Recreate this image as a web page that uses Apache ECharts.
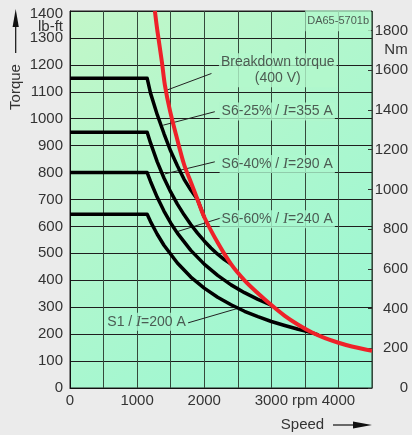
<!DOCTYPE html>
<html>
<head>
<meta charset="utf-8">
<script src="https://cdn.jsdelivr.net/npm/echarts@6/dist/echarts.min.js"></script>
<style>
html, body { margin: 0; padding: 0; background: #ebebeb; }
#chart { width: 412px; height: 435px; }
</style>
</head>
<body>
<div id="chart"></div>
<script>
// speed axis labels, one per 500 rpm step
var speedLabels = ['0', '', '1000', '', '2000', '', '3000', 'rpm', '4000', ''];
var nmLabels = ['0', '200', '400', '600', '800', '1000', '1200', '1400', '1600', '1800'];

// [speed rpm, torque lb-ft]
var breakdown = [[1265, 1400], [1300, 1330], [1370, 1210], [1414, 1125], [1488, 1032], [1588, 933],
    [1700, 830], [1800, 765], [1900, 700], [2000, 635], [2200, 540], [2400, 460], [2600, 400],
    [2800, 352], [3000, 308], [3200, 268], [3400, 235], [3600, 207], [3800, 185], [4000, 168],
    [4200, 154], [4500, 138]];
var s6_25 = [[0, 1150], [1150, 1150], [1200, 1095], [1300, 1015], [1400, 945], [1500, 880],
    [1600, 825], [1700, 775], [1800, 735], [1900, 700], [2000, 635]];
var s6_40 = [[0, 950], [1150, 950], [1200, 910], [1300, 840], [1400, 780], [1500, 728], [1600, 683],
    [1700, 643], [1800, 607], [1900, 575], [2000, 546], [2100, 520], [2200, 497], [2300, 477],
    [2400, 460]];
var s6_60 = [[0, 800], [1150, 800], [1200, 767], [1300, 708], [1400, 657], [1500, 613], [1600, 575],
    [1800, 511], [2000, 460], [2200, 418], [2400, 383], [2600, 354], [2800, 329], [3000, 308]];
var s1 = [[0, 645], [1150, 645], [1200, 618], [1300, 571], [1400, 530], [1600, 464], [1800, 412],
    [2000, 371], [2200, 337], [2400, 309], [2600, 285], [2800, 265], [3000, 247], [3200, 232],
    [3400, 218], [3600, 206], [3700, 197]];

// annotation texts, their anchor and leader lines (data coords)
var noteTexts = ['Breakdown torque\n(400 V)', 'S6-25% / {i|I}=355 A', 'S6-40% / {i|I}=290 A',
    'S6-60% / {i|I}=240 A', 'S1 / {i|I}=200 A'];
var notePos = [[3096, 1180], [3088, 1027], [3088, 832], [3088, 627], [1141, 246]];
var noteBg = ['#b3f7cc', '#b0f7cd', '#acf7ce', '#a9f7cf', '#a9f7cf'];
var leaders = [
    [[2108, 1168], [1430, 1105]],
    [[2158, 1026], [1389, 976]],
    [[2158, 840], [1414, 795]],
    [[2282, 634], [1588, 580]],
    [[1760, 242], [2505, 296]]
];

var NM_PER_LBFT = 1.3558;
var font = "'Liberation Sans', Arial, sans-serif";

function init() {
    var chart = echarts.init(document.getElementById('chart'));
    var plotBg = new echarts.graphic.LinearGradient(0, 0, 1, 1, [
        { offset: 0, color: '#c2f7c8' },
        { offset: 1, color: '#98f7d4' }
    ]);
    var series = [];

    leaders.forEach(function (l) {
        series.push({
            type: 'line', data: l, symbol: 'none', silent: true, z: 3,
            lineStyle: { color: '#222', width: 1 }
        });
    });
    [s1, s6_60, s6_40, s6_25].forEach(function (d) {
        series.push({
            type: 'line', data: d, symbol: 'none', silent: true, z: 4,
            lineStyle: { color: '#000', width: 3.5, join: 'round' }
        });
    });
    series.push({
        type: 'line', data: breakdown, symbol: 'none', silent: true, z: 5, smooth: 0.3,
        lineStyle: { color: '#ee2229', width: 4 }
    });
    notePos.forEach(function (p, i) {
        series.push({
            type: 'scatter', data: [p], symbolSize: 0, silent: true, z: 6,
            label: {
                show: true, position: 'inside', formatter: noteTexts[i],
                fontFamily: font, fontSize: 14, color: '#333', lineHeight: 16,
                backgroundColor: noteBg[i], padding: [1, 2],
                rich: { i: { fontFamily: "'Liberation Serif', serif", fontStyle: 'italic', fontSize: 15, color: '#333' } }
            }
        });
    });
    // drawing number box top right
    series.push({
        type: 'scatter', data: [[3995, 1364]], symbolSize: 0, silent: true, z: 6,
        label: {
            show: true, position: 'inside', formatter: 'DA65-5701b',
            fontFamily: font, fontSize: 11, color: '#333',
            backgroundColor: '#b3f7cc', padding: [5, 2]
        }
    });

    chart.setOption({
        backgroundColor: '#ebebeb',
        animation: false,
        textStyle: { fontFamily: font },
        grid: {
            left: 70, right: 40, top: 11, bottom: 47,
            show: true, backgroundColor: plotBg, borderColor: '#222', borderWidth: 1,
            outerBoundsMode: 'none'
        },
        xAxis: {
            type: 'value', min: 0, max: 4500, interval: 500,
            axisLine: { show: true, lineStyle: { color: '#111' } },
            axisTick: { show: false },
            splitLine: { show: true, lineStyle: { color: '#34493b', width: 1 } },
            axisLabel: {
                fontSize: 15, color: '#333', margin: 5,
                formatter: function (v) { return speedLabels[Math.round(v / 500)] || ''; }
            }
        },
        yAxis: [
            {
                type: 'value', min: 0, max: 1400, interval: 100,
                axisLine: { show: true, lineStyle: { color: '#111' } },
                axisTick: { show: false },
                splitLine: { show: true, lineStyle: { color: '#1e1e1e', width: 1 } },
                axisLabel: {
                    fontSize: 15, color: '#333', margin: 7,
                    formatter: function (v) { return v === 1400 ? '{top|1400}' : String(v); },
                    rich: { top: { fontSize: 15, color: '#333', padding: [6, 0, 0, 0] } }
                }
            },
            {
                type: 'value', min: 0, max: 1400 * NM_PER_LBFT, interval: 200, position: 'right',
                axisLine: { show: false },
                axisTick: { show: true, inside: true, length: 4, lineStyle: { color: '#333' } },
                splitLine: { show: false },
                axisLabel: {
                    fontSize: 15, color: '#333', margin: 36, align: 'right',
                    formatter: function (v) {
                        return v % 200 === 0 ? (nmLabels[v / 200] || '') : '';
                    }
                }
            }
        ],
        graphic: [
            { type: 'text', x: 63, y: 27, style: { text: 'lb-ft', font: '15px ' + font, fill: '#333', align: 'right', verticalAlign: 'middle', textAlign: 'right', textVerticalAlign: 'middle' } },
            { type: 'text', x: 396, y: 50, style: { text: 'Nm', font: '15px ' + font, fill: '#333', align: 'center', verticalAlign: 'middle', textAlign: 'center', textVerticalAlign: 'middle' } },
            { type: 'text', x: 16, y: 87, rotation: Math.PI / 2, style: { text: 'Torque', font: '15px ' + font, fill: '#333', align: 'center', verticalAlign: 'middle', textAlign: 'center', textVerticalAlign: 'middle' } },
            { type: 'line', shape: { x1: 15.7, y1: 53, x2: 15.7, y2: 24 }, style: { stroke: '#111', lineWidth: 1.2 } },
            { type: 'polygon', shape: { points: [[15.7, 9], [12.6, 27], [18.8, 27]] }, style: { fill: '#111' } },
            { type: 'text', x: 302.5, y: 425, style: { text: 'Speed', font: '15px ' + font, fill: '#333', align: 'center', verticalAlign: 'middle', textAlign: 'center', textVerticalAlign: 'middle' } },
            { type: 'line', shape: { x1: 333, y1: 425, x2: 356, y2: 425 }, style: { stroke: '#111', lineWidth: 1.2 } },
            { type: 'polygon', shape: { points: [[372, 425], [353, 421.6], [353, 428.4]] }, style: { fill: '#111' } }
        ],
        series: series
    });
}
document.addEventListener('DOMContentLoaded', init);
</script>
</body>
</html>
